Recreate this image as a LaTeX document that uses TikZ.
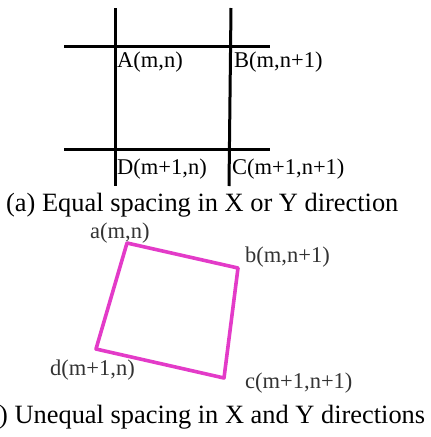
\documentclass[tikz,border=0pt]{standalone}
\usepackage{fontspec}
\setmainfont{Liberation Serif}
\usetikzlibrary{positioning}
\definecolor{quadpink}{HTML}{E33BC8}
\definecolor{labgray}{HTML}{333333}

\begin{document}
\begin{tikzpicture}[x=1pt,y=-1pt,
  gridline/.style={line width=3pt,black},
  ptlabel/.style={anchor=west,inner sep=0pt,font=\fontsize{22.5}{24}\selectfont},
  cornerlabel/.style={anchor=west,inner sep=0pt,text=labgray,font=\fontsize{22.5}{24}\selectfont},
  caption/.style={anchor=west,inner sep=0pt,font=\fontsize{26.4}{28}\selectfont}]
  \useasboundingbox (0,0) rectangle (431,437);
  % (a) regular grid
  \draw[gridline] (115,8) -- (115,186);
  \draw[gridline] (231,8) -- (229,186);
  \draw[gridline] (64,46) -- (270,46);
  \draw[gridline] (64,149) -- (270,149);
  \node[ptlabel] (A) at (117,62) {A(m,n)};
  \node[ptlabel] (B) at (234,62) {B(m,n+1)};
  \node[ptlabel] (D) at (117,169) {D(m+1,n)};
  \node[ptlabel] (C) at (232,169) {C(m+1,n+1)};
  \node[caption] (capa) at (6,205) {(a) Equal spacing in X or Y direction};
  % (b) skewed cell
  \coordinate (a) at (127,243);
  \coordinate (b) at (238,268);
  \coordinate (c) at (224,378);
  \coordinate (d) at (96,349);
  \draw[quadpink,line width=3.6pt,line join=round] (a) -- (b) -- (c) -- (d) -- cycle;
  \node[cornerlabel] (la) at (90,233) {a(m,n)};
  \node[cornerlabel] (lb) at (245,257) {b(m,n+1)};
  \node[cornerlabel] (ld) at (50,370) {d(m+1,n)};
  \node[cornerlabel] (lc) at (245,383) {c(m+1,n+1)};
  \node[caption] (capb) at (-1,417) {) Unequal spacing in X and Y directions};
\end{tikzpicture}
\end{document}
